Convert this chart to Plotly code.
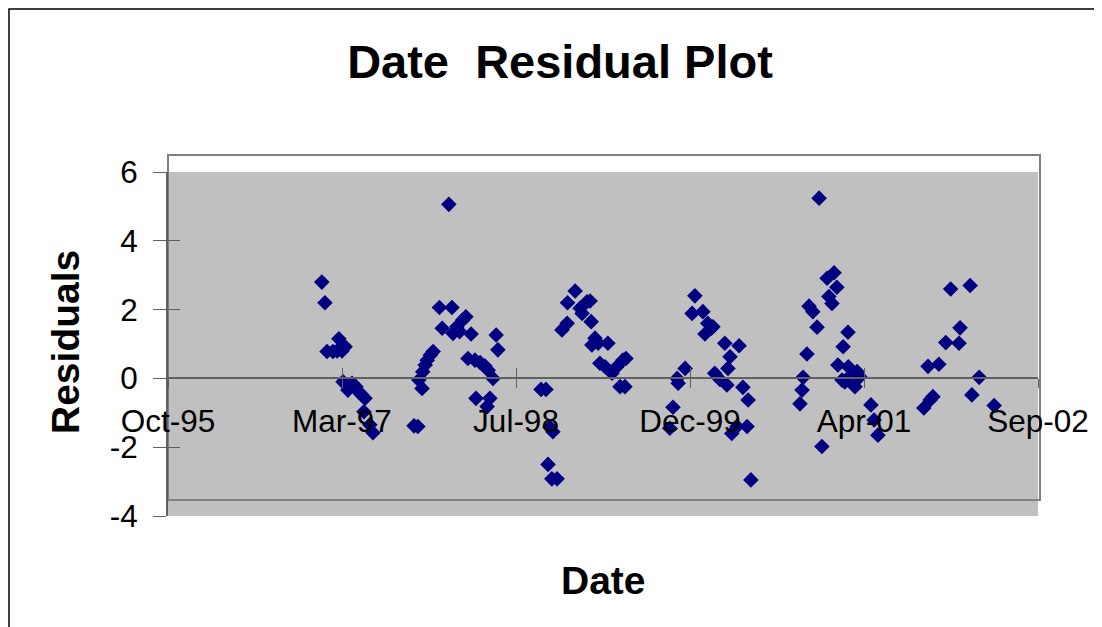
import plotly.graph_objects as go

# ---- data ----
dates = [
    "1997-01-12", "1997-01-21", "1997-01-27", "1997-02-13", "1997-02-25", "1997-03-02", "1997-03-11",
    "1997-03-20", "1997-03-14", "1997-03-28", "1997-04-09", "1997-04-20", "1997-04-29", "1997-05-07",
    "1997-05-16", "1997-05-13", "1997-05-30", "1997-06-08",
    "1997-10-04", "1997-10-15", "1997-10-18", "1997-10-27", "1997-10-29", "1997-11-05", "1997-11-11",
    "1997-11-20", "1997-11-28", "1997-12-16", "1997-12-24", "1998-01-12", "1998-01-21", "1998-01-24",
    "1998-02-04", "1998-02-12", "1998-02-21", "1998-03-02", "1998-03-17", "1998-03-08", "1998-03-28",
    "1998-03-31", "1998-04-12", "1998-04-26", "1998-05-02", "1998-05-05", "1998-05-10", "1998-05-19",
    "1998-05-28", "1998-06-02",
    "1998-10-04", "1998-10-18", "1998-10-24", "1998-10-30", "1998-11-04", "1998-11-07", "1998-11-19",
    "1998-12-03", "1998-12-18", "1998-12-19", "1999-01-10", "1999-01-24", "1999-01-30", "1999-02-13",
    "1999-02-22", "1999-02-25", "1999-02-27", "1999-03-08", "1999-03-17", "1999-03-22", "1999-04-06",
    "1999-04-14", "1999-04-26", "1999-05-10", "1999-05-19", "1999-05-27", "1999-06-02", "1999-06-05",
    "1999-10-09", "1999-10-18", "1999-10-30", "1999-11-02", "1999-11-22", "1999-12-12", "1999-12-20",
    "2000-01-12", "2000-01-18", "2000-01-26", "2000-02-04", "2000-02-10", "2000-02-15", "2000-03-01",
    "2000-03-15", "2000-03-21", "2000-03-24", "2000-03-30", "2000-04-04", "2000-04-19", "2000-04-25",
    "2000-05-06", "2000-05-18", "2000-05-21", "2000-05-29",
    "2000-10-17", "2000-10-23", "2000-10-26", "2000-11-06", "2000-11-12", "2000-11-23", "2000-12-05",
    "2000-12-11", "2000-12-19", "2001-01-03", "2001-01-08", "2001-01-17", "2001-01-23", "2001-01-31",
    "2001-02-03", "2001-02-15", "2001-02-18", "2001-02-23", "2001-03-04", "2001-03-05", "2001-03-13",
    "2001-03-24", "2001-03-30", "2001-04-07", "2001-05-09", "2001-05-18", "2001-05-29",
    "2001-10-08", "2001-10-20", "2001-10-26", "2001-11-03", "2001-11-20", "2001-12-10", "2001-12-24",
    "2002-01-17", "2002-01-20", "2002-02-18", "2002-02-23", "2002-03-16", "2002-04-28",
]
residuals = [
    2.80, 2.20, 0.78, 0.78, 0.80, 1.15, 0.80,
    0.92, -0.10, -0.34, -0.14, -0.24, -0.40, -0.48,
    -0.58, -0.97, -1.35, -1.58,
    -1.38, -1.40, -0.05, -0.29, 0.19, 0.39, 0.53,
    0.68, 0.78, 2.06, 1.46, 5.06, 2.06, 1.31,
    1.50, 1.36, 1.70, 1.79, 1.29, 0.58, 0.53,
    -0.58, 0.46, 0.36, -0.82, 0.24, -0.58, 0.00,
    1.26, 0.83,
    -0.32, -0.32, -2.50, -1.42, -2.92, -1.55, -2.92,
    1.41, 1.60, 2.20, 2.54, 2.04, 1.89, 2.23,
    2.25, 1.65, 0.97, 1.17, 1.02, 0.44, 0.34,
    1.02, 0.15, 0.34, -0.24, 0.53, -0.24, 0.58,
    -1.45, -0.84, 0.00, -0.14, 0.29, 1.89, 2.40,
    1.94, 1.29, 1.60, 1.45, 1.50, 0.15, -0.03,
    1.02, -0.19, 0.29, 0.63, -1.60, -1.40, 0.95,
    -0.26, -1.40, -0.63, -2.95,
    -0.74, -0.34, 0.03, 0.71, 2.10, 1.94, 1.49,
    5.24, -1.98, 2.91, 2.38, 2.18, 3.07, 2.65,
    0.39, -0.05, 0.92, -0.10, 1.34, 0.34, 0.10,
    -0.24, 0.20, 0.05, -0.77, -1.21, -1.65,
    -0.86, 0.35, -0.63, -0.53, 0.41, 1.04, 2.60,
    1.02, 1.47, 2.70, -0.48, 0.03, -0.79,
]

x_tick_dates = ["1995-10-28", "1997-03-11", "1998-07-24", "1999-12-06", "2001-04-19", "2002-09-01"]
x_tick_labels = ["Oct-95", "Mar-97", "Jul-98", "Dec-99", "Apr-01", "Sep-02"]
y_tick_values = [-4, -2, 0, 2, 4, 6]
y_tick_labels = ["-4", "-2", "0", "2", "4", "6"]

title_text = "Date\u00a0 Residual Plot"
x_title = "Date"
y_title = "Residuals"

FONT = "Liberation Sans, Arial, sans-serif"
x_range = [x_tick_dates[0], x_tick_dates[-1]]
y_range = [y_tick_values[0], y_tick_values[-1]]
zero_pos = (0 - y_range[0]) / (y_range[1] - y_range[0])

# the page body adds an 8px offset; the layout compensates for it
OFF = 8
PL, PT, PW, PH = 168 - OFF, 172 - OFF, 870, 344   # plot area in figure pixels

fig = go.Figure()
fig.add_trace(go.Scatter(
    x=dates, y=residuals, mode="markers",
    marker=dict(symbol="diamond", size=12, color="#000080", line=dict(width=0)),
    showlegend=False, hoverinfo="x+y",
))
# empty trace to activate the overlay axes (crossing tick marks)
fig.add_trace(go.Scatter(x=[], y=[], xaxis="x2", yaxis="y2", showlegend=False))

axis_line = "#606060"
fig.update_layout(
    width=1102, height=627,
    margin=dict(l=PL, r=1102 - PL - PW, t=PT, b=627 - PT - PH, pad=0),
    paper_bgcolor="white", plot_bgcolor="#c0c0c0",
    font=dict(family=FONT, color="black"),
    xaxis=dict(
        type="date", range=x_range, anchor="free", position=zero_pos,
        tickvals=x_tick_dates, ticktext=x_tick_labels,
        ticks="outside", ticklen=9, tickwidth=1, tickcolor=axis_line,
        showline=True, linecolor=axis_line, linewidth=1.5,
        showgrid=False, zeroline=False,
        tickfont=dict(family=FONT, size=31.5, color="black"),
        ticklabelstandoff=6,
    ),
    xaxis2=dict(
        type="date", range=x_range, overlaying="x", anchor="free", position=zero_pos,
        tickvals=x_tick_dates, showticklabels=False,
        ticks="inside", ticklen=10, tickwidth=1, tickcolor=axis_line,
        showline=False, showgrid=False, zeroline=False,
    ),
    yaxis=dict(
        range=y_range, tickvals=y_tick_values, ticktext=y_tick_labels,
        ticks="outside", ticklen=13, tickwidth=1, tickcolor=axis_line,
        showline=True, linecolor=axis_line, linewidth=2,
        showgrid=False, zeroline=False,
        tickfont=dict(family=FONT, size=31.5, color="black"),
        ticklabelstandoff=9,
    ),
    yaxis2=dict(
        range=y_range, overlaying="y", anchor="x", side="left",
        tickvals=y_tick_values, showticklabels=False,
        ticks="inside", ticklen=12, tickwidth=1, tickcolor=axis_line,
        showline=False, showgrid=False, zeroline=False,
    ),
    title=dict(
        text="<b>" + title_text + "</b>",
        font=dict(family=FONT, size=47, color="black"),
        x=(560 - 168) / 870, xref="paper", xanchor="center",
        y=1 - (62 - OFF) / 627, yref="container", yanchor="middle",
    ),
)

fig.add_annotation(
    text="<b>" + y_title + "</b>", textangle=-90,
    x=(65 - 168) / 870, y=(516 - 342) / 344, xref="paper", yref="paper",
    xanchor="center", yanchor="middle", showarrow=False,
    font=dict(family=FONT, size=39, color="black"),
)
fig.add_annotation(
    text="<b>" + x_title + "</b>",
    x=(603 - 168) / 870, y=(516 - 580) / 344, xref="paper", yref="paper",
    xanchor="center", yanchor="middle", showarrow=False,
    font=dict(family=FONT, size=39, color="black"),
)

# plot-area border box (offset, as in the Excel chart)
fig.add_shape(type="rect", xref="paper", yref="paper",
              x0=0, x1=(1040 - 168) / 870, y0=(516 - 500) / 344, y1=(516 - 155) / 344,
              line=dict(color="#808080", width=2), fillcolor="rgba(0,0,0,0)", layer="below")
# outer chart border (as close to the page corner as the page offset allows)
fig.add_shape(type="rect", xref="paper", yref="paper",
              x0=(OFF + 1 - 168) / 870, x1=(1120 - 168) / 870,
              y0=(516 - 660) / 344, y1=(516 - OFF - 1) / 344,
              line=dict(color="black", width=1.5), fillcolor="rgba(0,0,0,0)", layer="below")

fig.write_html("out.html")
